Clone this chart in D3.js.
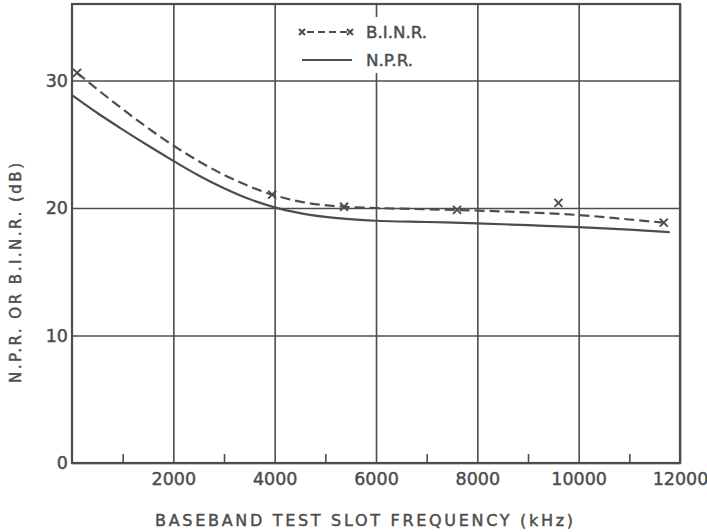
<!DOCTYPE html>
<html>
<head>
<meta charset="utf-8">
<script src="https://cdn.jsdelivr.net/npm/d3@7"></script>
<style>
  body { margin: 0; background: #fff; }
  svg { display: block; }
  svg text { font-family: 'DejaVu Sans', sans-serif; stroke: #4d4d4d; stroke-width: 0.45px; }
  .grid line { stroke: #4d4d4d; stroke-width: 1.6; }
  .grid path { display: none; }
  .grid text { fill: #4d4d4d; font-size: 17.5px; font-family: 'DejaVu Sans', sans-serif; }
</style>
</head>
<body>
<script>
// N.P.R. curve (solid)
const nprFreq = [0, 500, 1000, 1500, 2000, 2500, 3000, 3500, 4000, 4500, 5000, 6000, 7000, 8000, 9000, 10000, 11000, 11800]
const nprVal = [28.85, 27.45, 26.15, 24.9, 23.7, 22.55, 21.55, 20.7, 20.05, 19.6, 19.3, 19.0, 18.9, 18.8, 18.65, 18.5, 18.3, 18.1]

// B.I.N.R. fitted curve (dashed)
const binrFreq = [100, 1000, 2000, 3000, 3950, 4500, 5370, 6000, 7000, 8000, 9000, 10000, 11000, 11680]
const binrVal = [30.6, 27.75, 24.9, 22.6, 21.05, 20.5, 20.1, 20.0, 19.9, 19.8, 19.65, 19.45, 19.1, 18.85]

// B.I.N.R. measured points (x marks)
const markFreq = [100, 3950, 5370, 7600, 9600, 11680]
const markVal = [30.6, 21.05, 20.1, 19.85, 20.4, 18.85]

const xMajor = [2000, 4000, 6000, 8000, 10000, 12000]
const xMinor = [1000, 3000, 5000, 7000, 9000, 11000]
const yMajor = [0, 10, 20, 30]

const width = 707
const height = 532
const padL = 72, padR = 680, padT = 4, padB = 463
const ink = '#4d4d4d'

const svg = d3.select('body').append('svg').attr('width', width).attr('height', height)

const x = d3.scaleLinear().domain([0, 12000]).range([padL, padR])
const y = d3.scaleLinear().domain([0, 36]).range([padB, padT])

// grid + labels
svg.append('g').attr('class', 'grid')
    .attr('transform', `translate(0,${padB})`)
    .call(d3.axisBottom(x).tickValues(xMajor).tickSize(-(padB - padT)).tickPadding(10).tickFormat(d3.format('d')))

svg.append('g').attr('class', 'grid')
    .attr('transform', `translate(0,${padB})`)
    .call(d3.axisBottom(x).tickValues(xMinor).tickSize(-9).tickFormat(''))

svg.append('g').attr('class', 'grid')
    .attr('transform', `translate(${padL},0)`)
    .call(d3.axisLeft(y).tickValues(yMajor).tickSize(-(padR - padL)).tickPadding(4).tickFormat(d3.format('d')))

// frame
svg.append('rect').attr('x', padL).attr('y', padT).attr('width', padR - padL).attr('height', padB - padT)
    .attr('fill', 'none').attr('stroke', ink).attr('stroke-width', 2.2)

// legend background hides grid behind it
svg.append('rect').attr('x', 290).attr('y', 17).attr('width', 178).attr('height', 56).attr('fill', '#fff')

const line = d3.line().x(d => x(d[0])).y(d => y(d[1])).curve(d3.curveMonotoneX)

svg.append('path')
    .datum(nprFreq.map((f, i) => [f, nprVal[i]]))
    .attr('d', line)
    .attr('fill', 'none').attr('stroke', ink).attr('stroke-width', 2.2)

svg.append('path')
    .datum(binrFreq.map((f, i) => [f, binrVal[i]]))
    .attr('d', line)
    .attr('fill', 'none').attr('stroke', ink).attr('stroke-width', 2.2).attr('stroke-dasharray', '10,5')

const cross = (g, cx, cy, s) => {
    g.append('path')
        .attr('d', `M${cx - s},${cy - s}L${cx + s},${cy + s}M${cx - s},${cy + s}L${cx + s},${cy - s}`)
        .attr('stroke', ink).attr('stroke-width', 2).attr('fill', 'none')
}

const marks = svg.append('g')
markFreq.forEach((f, i) => cross(marks, x(f), y(markVal[i]), 4))

// legend
const lg = svg.append('g')
lg.append('line').attr('x1', 301).attr('x2', 351).attr('y1', 32).attr('y2', 32)
    .attr('stroke', ink).attr('stroke-width', 2).attr('stroke-dasharray', '7,4').attr('stroke-dashoffset', -6)
cross(lg, 302, 32, 3)
cross(lg, 350, 32, 3)
lg.append('text').attr('x', 366).attr('y', 38).text('B.I.N.R.')
    .attr('fill', ink).attr('font-size', 16).attr('textLength', 61).attr('lengthAdjust', 'spacingAndGlyphs')
lg.append('line').attr('x1', 302).attr('x2', 352).attr('y1', 60).attr('y2', 60)
    .attr('stroke', ink).attr('stroke-width', 2.2)
lg.append('text').attr('x', 366).attr('y', 66).text('N.P.R.')
    .attr('fill', ink).attr('font-size', 16).attr('textLength', 47).attr('lengthAdjust', 'spacingAndGlyphs')

// axis titles
svg.append('text').attr('x', 155).attr('y', 526)
    .attr('textLength', 418).attr('lengthAdjust', 'spacing')
    .attr('fill', ink).attr('font-size', 16)
    .text('BASEBAND TEST SLOT FREQUENCY (kHz)')

svg.append('text')
    .attr('transform', 'translate(21,383) rotate(-90)')
    .attr('textLength', 220).attr('lengthAdjust', 'spacing')
    .attr('fill', ink).attr('font-size', 15)
    .text('N.P.R. OR B.I.N.R. (dB)')
</script>
</body>
</html>
